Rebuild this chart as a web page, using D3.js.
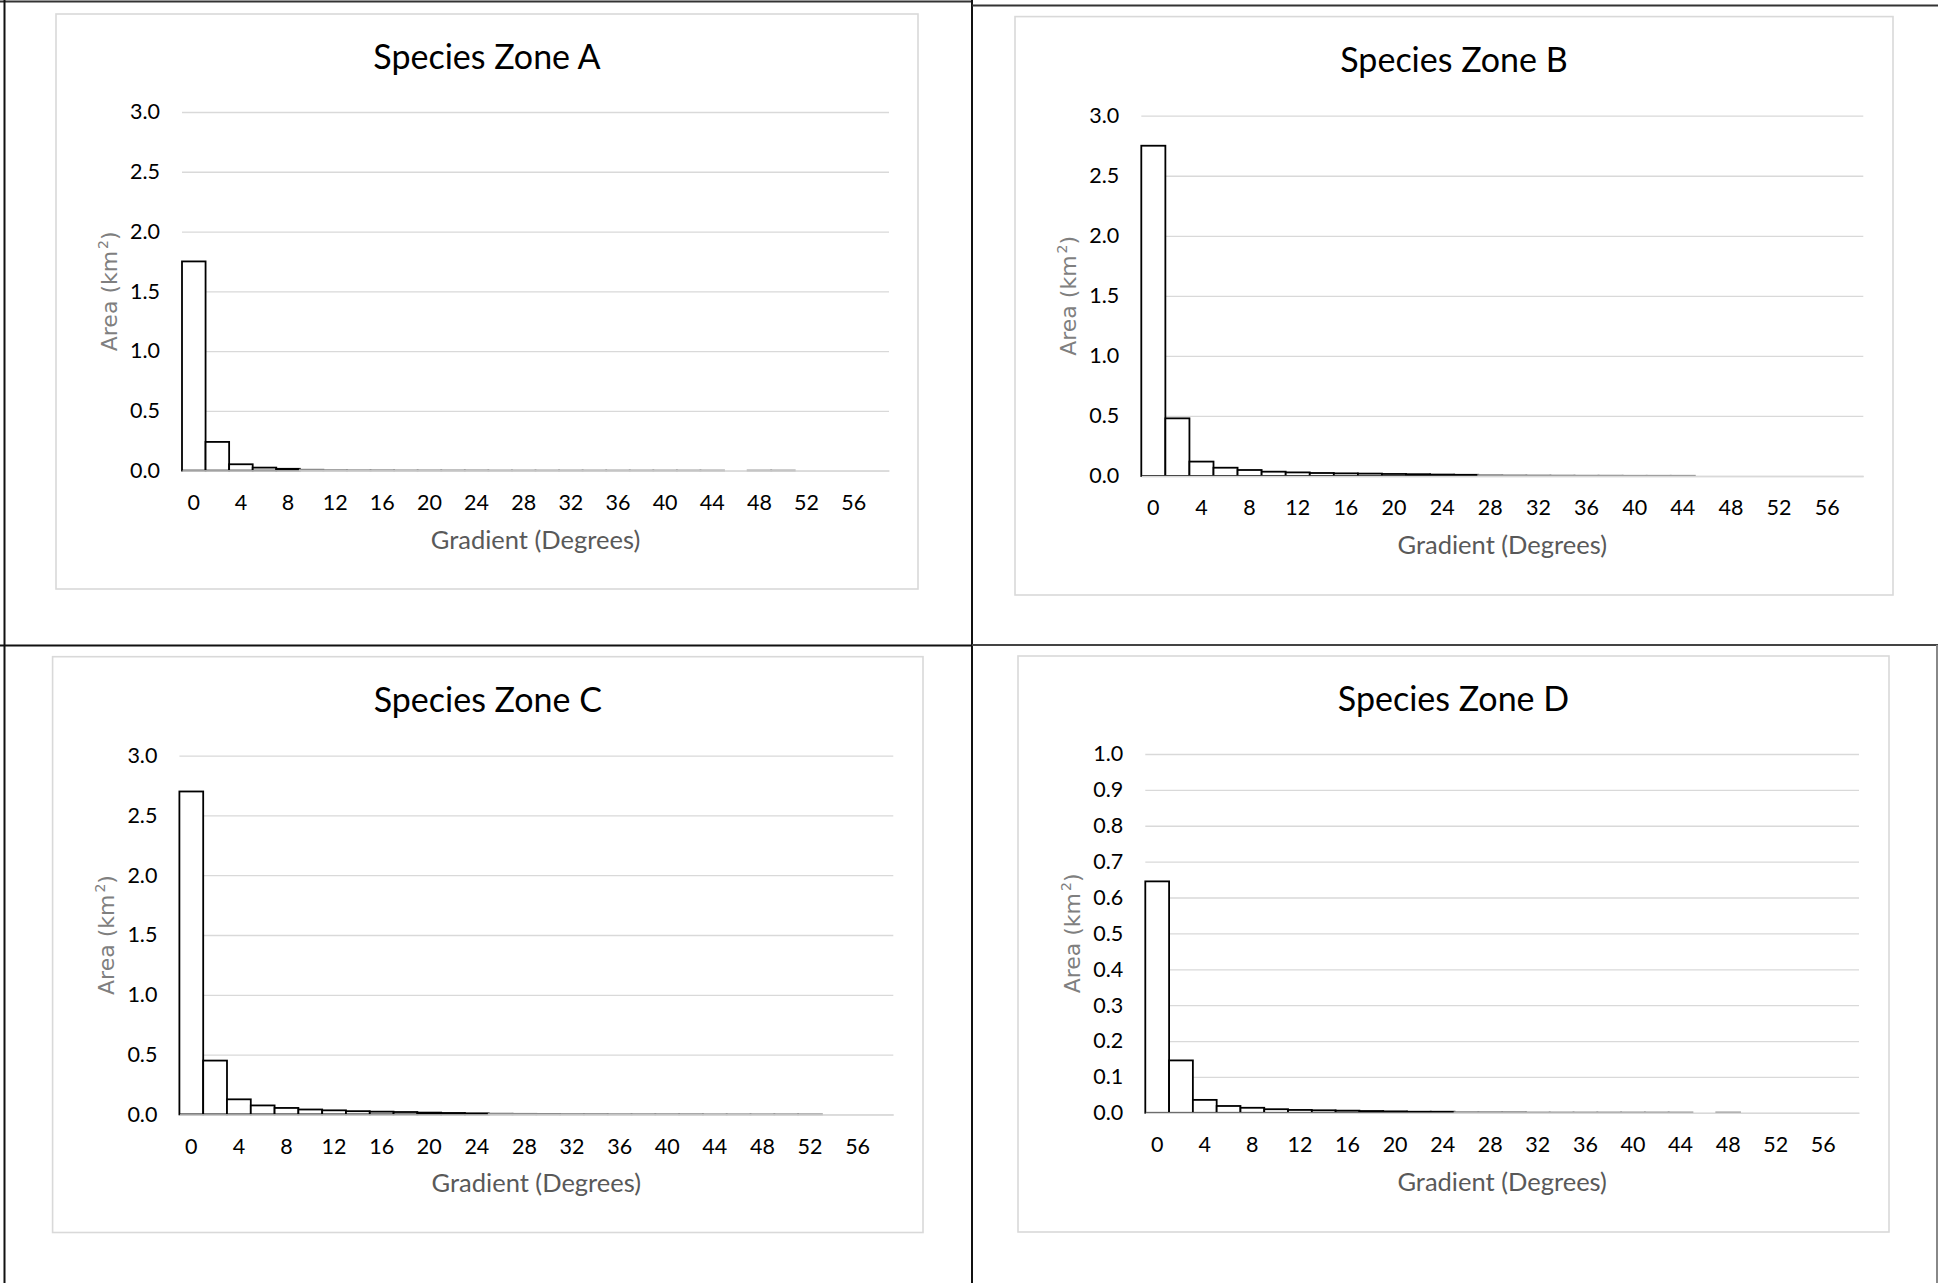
<!DOCTYPE html>
<meta charset="utf-8">
<head>
	<title>Species zones - area by gradient</title>
</head>

<style>
body {
	margin: 0;
	background: #fff;
}
svg {
	display: block;
}
.grid line {
	stroke: #d9d9d9;
	stroke-width: 1.3;
}
.tick text {
	font-family: Lato, sans-serif;
	font-size: 21.5px;
	fill: #000;
}
</style>

<body>

<svg id="chart" width="1938" height="1283"></svg>

<script src="https://cdnjs.cloudflare.com/ajax/libs/d3/7.8.5/d3.min.js"></script>
<script>

// bins of 2 degrees (start of each bin)
var gradientBins = [0, 2, 4, 6, 8, 10, 12, 14, 16, 18, 20, 22, 24, 26, 28,
	30, 32, 34, 36, 38, 40, 42, 44, 46, 48, 50, 52, 54, 56, 58];
var xTickLabels = [0, 4, 8, 12, 16, 20, 24, 28, 32, 36, 40, 44, 48, 52, 56];

var zoneTitles = ['Species Zone A', 'Species Zone B', 'Species Zone C', 'Species Zone D'];

// area in km2 per gradient bin
var zoneA = [1.75, 0.24, 0.053, 0.025, 0.015, 0.008, 0.004, 0.003, 0.003, 0.002,
	0.002, 0.002, 0.002, 0.001, 0.001, 0.001, 0.001, 0.001, 0.001, 0.001,
	0.001, 0.001, 0.001, 0, 0.001, 0.001, 0, 0, 0, 0];
var zoneB = [2.75, 0.48, 0.12, 0.069, 0.05, 0.036, 0.03, 0.025, 0.022, 0.02,
	0.017, 0.015, 0.012, 0.01, 0.008, 0.006, 0.005, 0.004, 0.003, 0.003,
	0.002, 0.002, 0.002, 0, 0, 0, 0, 0, 0, 0];
var zoneC = [2.70, 0.45, 0.126, 0.075, 0.054, 0.041, 0.034, 0.027, 0.023, 0.02,
	0.015, 0.012, 0.009, 0.007, 0.005, 0.004, 0.003, 0.003, 0.002, 0.002,
	0.002, 0.002, 0.001, 0.001, 0.001, 0.001, 0.001, 0, 0, 0];
var zoneD = [0.645, 0.146, 0.036, 0.019, 0.014, 0.010, 0.008, 0.007, 0.006, 0.005,
	0.004, 0.003, 0.003, 0.002, 0.002, 0.002, 0.001, 0.001, 0.001, 0.001,
	0.001, 0.001, 0.001, 0, 0.001, 0, 0, 0, 0, 0];

var yTicksABC = [0, 0.5, 1.0, 1.5, 2.0, 2.5, 3.0];
var yTicksD = [0, 0.1, 0.2, 0.3, 0.4, 0.5, 0.6, 0.7, 0.8, 0.9, 1.0];

var xTitle = 'Gradient (Degrees)';

// frame: [left, top, right, bottom], plot: [left, top, right, bottom]
var panels = [
	{title: zoneTitles[0], values: zoneA, yTicks: yTicksABC,
		frame: [56, 14, 918, 589], plot: [182, 112, 889, 470.6]},
	{title: zoneTitles[1], values: zoneB, yTicks: yTicksABC,
		frame: [1015, 16.6, 1893, 595], plot: [1141.3, 115.7, 1863.3, 476]},
	{title: zoneTitles[2], values: zoneC, yTicks: yTicksABC,
		frame: [52.6, 656.7, 923, 1232.5], plot: [179.4, 755.6, 893.3, 1114.4]},
	{title: zoneTitles[3], values: zoneD, yTicks: yTicksD,
		frame: [1018, 656, 1889, 1232], plot: [1145.3, 754, 1859, 1112.8]}
];

var svg = d3.select('#chart');

// table-like cell borders around the four charts
var borders = [
	{x1: 0, y1: 1.5, x2: 972, y2: 1.5, c: '#333'},
	{x1: 4.5, y1: 0, x2: 4.5, y2: 1283, c: '#111'},
	{x1: 972, y1: 0, x2: 972, y2: 1283, c: '#111'},
	{x1: 0, y1: 645.5, x2: 972, y2: 645.5, c: '#111'},
	{x1: 972, y1: 5.5, x2: 1938, y2: 5.5, c: '#333'},
	{x1: 972, y1: 645, x2: 1938, y2: 645, c: '#444'},
	{x1: 1937, y1: 645, x2: 1937, y2: 1283, c: '#888'}
];
svg.selectAll('.border')
	.data(borders)
	.enter()
	.append('line')
	.attr('class', 'border')
	.attr('x1', function(d) { return d.x1; })
	.attr('y1', function(d) { return d.y1; })
	.attr('x2', function(d) { return d.x2; })
	.attr('y2', function(d) { return d.y2; })
	.style('stroke', function(d) { return d.c; })
	.style('stroke-width', 2);

panels.forEach(function(p) {
	var g = svg.append('g');
	var f = p.frame, b = p.plot;

	g.append('rect')
		.attr('x', f[0])
		.attr('y', f[1])
		.attr('width', f[2] - f[0])
		.attr('height', f[3] - f[1])
		.style('fill', '#fff')
		.style('stroke', '#d9d9d9')
		.style('stroke-width', 1.6);

	g.append('text')
		.attr('x', (f[0] + f[2]) / 2)
		.attr('y', f[1] + 55)
		.attr('text-anchor', 'middle')
		.style('font-family', 'Lato, sans-serif')
		.style('font-size', '34px')
		.style('fill', '#000')
		.text(p.title);

	var x = d3.scaleBand()
		.domain(gradientBins)
		.range([b[0], b[2]])
		.padding(0);

	var y = d3.scaleLinear()
		.domain([0, d3.max(p.yTicks)])
		.range([b[3], b[1]]);

	// gridlines + y labels
	var yAxis = g.append('g')
		.attr('class', 'grid')
		.attr('transform', 'translate(' + b[0] + ',0)')
		.call(d3.axisLeft(y)
			.tickValues(p.yTicks)
			.tickFormat(d3.format('.1f'))
			.tickSize(-(b[2] - b[0]))
			.tickPadding(22));
	yAxis.select('.domain').remove();

	// bars
	g.append('g')
		.selectAll('rect')
		.data(p.values.map(function(v, i) { return {bin: gradientBins[i], v: v}; })
			.filter(function(d) { return d.v > 0; }))
		.enter()
		.append('rect')
		.attr('x', function(d) { return x(d.bin); })
		.attr('y', function(d) { return y(d.v); })
		.attr('width', x.bandwidth())
		.attr('height', function(d) { return y(0) - y(d.v); })
		.style('fill', '#fff')
		.style('stroke', function(d) { return (y(0) - y(d.v)) < 1 ? '#8c8c8c' : '#000'; })
		.style('stroke-width', 1.8);

	// x axis line and labels
	var xAxis = g.append('g')
		.attr('transform', 'translate(0,' + b[3] + ')')
		.call(d3.axisBottom(x)
			.tickValues(xTickLabels)
			.tickSize(0)
			.tickPadding(24));
	xAxis.select('.domain')
		.style('stroke', '#d9d9d9')
		.style('stroke-width', 1.5);

	g.append('text')
		.attr('x', (b[0] + b[2]) / 2)
		.attr('y', b[3] + 78)
		.attr('text-anchor', 'middle')
		.style('font-family', 'Lato, sans-serif')
		.style('font-size', '25.5px')
		.style('fill', '#595959')
		.text(xTitle);

	var yt = g.append('text')
		.attr('transform', 'translate(' + (b[0] - 65) + ',' + ((b[1] + b[3]) / 2) + ') rotate(-90)')
		.attr('text-anchor', 'middle')
		.style('font-family', '"DejaVu Sans", sans-serif')
		.style('font-size', '22px')
		.style('fill', '#7f7f7f');
	yt.append('tspan').text('Area (km');
	yt.append('tspan').attr('dy', -9).attr('dx', 2).style('font-size', '14px').text('2');
	yt.append('tspan').attr('dy', 9).text(')');
});

</script>

</body>
</html>
